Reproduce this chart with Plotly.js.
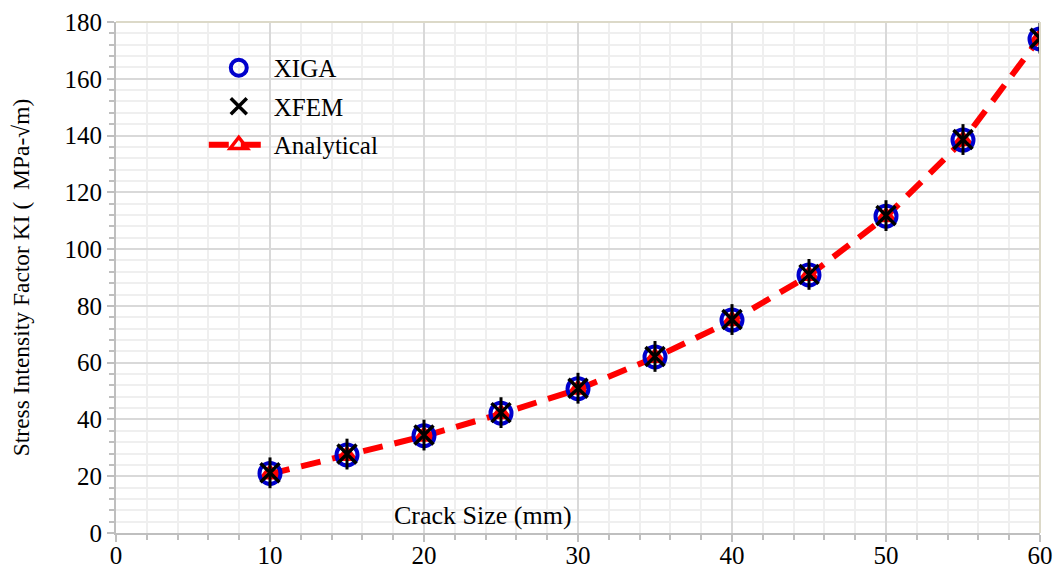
<!DOCTYPE html>
<html><head><meta charset="utf-8">
<script src="https://cdn.plot.ly/plotly-3.0.1.min.js"></script>
<style>html,body{margin:0;padding:0;background:#fff}</style>
</head><body>
<div id="chart" style="width:1057px;height:575px"></div>
<script>
const crackSize = [10, 15, 20, 25, 30, 35, 40, 45, 50, 55, 60];
const xiga = [21, 27.5, 34.3, 42.2, 50.8, 62, 75, 90.9, 111.6, 138.4, 174];
const xfem = [21.2, 27.8, 34.5, 42.4, 51, 62.2, 75.2, 91.1, 111.8, 138.6, 174.3];
const analytical = [20.8, 27.3, 34.1, 42, 50.6, 61.8, 74.8, 90.7, 111.4, 138.2, 174.5];

const font = "'Liberation Serif', 'Times New Roman', serif";
const traces = [
  {x: crackSize, y: analytical, name: 'Analytical', mode: 'lines+markers', legendrank: 3, legendgroup: 'c',
   line: {color: '#ff0000', width: 6, dash: '20px,12px'},
   marker: {symbol: 'triangle-up-open', size: 15, color: '#ff0000', line: {color: '#ff0000', width: 3.5}}},
  {x: crackSize, y: xiga, name: 'XIGA', mode: 'markers', legendrank: 1, legendgroup: 'a',
   marker: {symbol: 'circle-open', size: 21, color: '#0000cc', line: {color: '#0000cc', width: 4}}},
  {x: crackSize, y: xfem, name: 'XFEM', mode: 'markers', legendrank: 2, legendgroup: 'b',
   marker: {symbol: 'x-thin-open', size: 19, color: '#000000', line: {color: '#000000', width: 3.5}}},
  {x: crackSize, y: xfem, name: 'XFEM', mode: 'markers', showlegend: false, hoverinfo: 'skip', legendgroup: 'b',
   marker: {symbol: 'line-ns-open', size: 22, color: '#000000', line: {color: '#000000', width: 3}}}
];

const layout = {
  width: 1057, height: 575,
  margin: {l: 116, r: 17, t: 22, b: 42},
  paper_bgcolor: '#fff', plot_bgcolor: '#fff',
  font: {family: font, size: 25, color: '#000'},
  showlegend: true,
  legend: {x: 0.095, y: 0.955, xanchor: 'left', yanchor: 'top', traceorder: 'grouped',
           bgcolor: 'rgba(0,0,0,0)', font: {family: font, size: 25, color: '#000'}, tracegroupgap: 3,
           itemwidth: 60},
  xaxis: {range: [0, 60], dtick: 10, tick0: 0, showline: true, linecolor: '#bfbfbf', linewidth: 2,
          ticks: 'outside', ticklen: 7, tickwidth: 2, tickcolor: '#bfbfbf', ticklabelstandoff: -8,
          showgrid: true, gridcolor: '#d9d9d9', gridwidth: 1.5, zeroline: false,
          minor: {dtick: 2, showgrid: true, gridcolor: '#efefef', gridwidth: 2, ticks: 'outside', ticklen: 5, tickwidth: 1.5, tickcolor: '#bfbfbf'},
          tickfont: {family: font, size: 25}},
  yaxis: {range: [0, 180], dtick: 20, tick0: 0, showline: true, linecolor: '#bfbfbf', linewidth: 2,
          ticks: 'outside', ticklen: 7, tickwidth: 2, tickcolor: '#bfbfbf',
          showgrid: true, gridcolor: '#d9d9d9', gridwidth: 1.5, zeroline: false,
          minor: {dtick: 4, showgrid: true, gridcolor: '#efefef', gridwidth: 2, ticks: 'outside', ticklen: 5, tickwidth: 1.5, tickcolor: '#bfbfbf'},
          tickfont: {family: font, size: 25},
          title: {text: 'Stress Intensity Factor KI (  MPa-√m)', font: {family: font, size: 23.5}, standoff: 28}},
  shapes: [
    {type: 'line', xref: 'paper', yref: 'paper', x0: 0, x1: 1, y0: 1, y1: 1, line: {color: '#dcd9c8', width: 2}},
    {type: 'line', xref: 'paper', yref: 'paper', x0: 1, x1: 1, y0: 0, y1: 1, line: {color: '#dcd9c8', width: 2}}
  ],
  annotations: [
    {text: 'Crack Size (mm)', xref: 'x', yref: 'y', x: 23.85, y: 6.3, showarrow: false,
     font: {family: font, size: 26, color: '#000'}, xanchor: 'center', yanchor: 'middle'}
  ]
};
Plotly.newPlot('chart', traces, layout, {displayModeBar: false});
</script>
</body></html>
